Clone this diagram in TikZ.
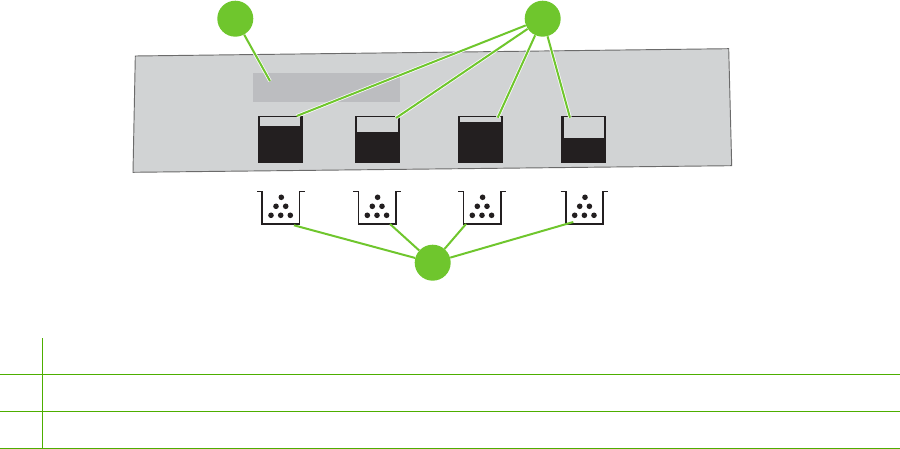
\documentclass[tikz,border=0pt]{standalone}
\definecolor{callout}{HTML}{6FC62D}
\definecolor{rule}{HTML}{4DAE00}
\definecolor{panel}{HTML}{D1D3D4}
\definecolor{screen}{HTML}{BCBDC0}
\definecolor{ink}{HTML}{231F20}
\tikzset{
  x=0.75pt,y=-0.75pt,
  badge/.style={circle,fill=callout,inner sep=0pt,minimum size=27pt},
  halo/.style={white,line width=2.6pt},
  leader/.style={callout,line width=1.5pt},
  tablerule/.style={rule,line width=1pt},
  binline/.style={ink,line width=1.2pt},
  panelface/.style={fill=panel,draw=black!58,line width=0.7pt},
  gaugewin/.style={fill=panel,draw=none},
}
\newcommand{\wastebin}[1]{%
  \draw[binline] (#1-5,191.7) -- (#1,191.7) -- (#1,224) -- (#1+37.5,224) -- (#1+37.5,191.7) -- (#1+42.5,191.7);
  \fill[ink] (#1+19.3,197.3) circle[radius=2.1pt];
  \fill[ink] (#1+14,206.3) circle[radius=2.1pt];
  \fill[ink] (#1+23.7,206.3) circle[radius=2.1pt];
  \fill[ink] (#1+9,215.3) circle[radius=2.1pt];
  \fill[ink] (#1+18.7,215.3) circle[radius=2.1pt];
  \fill[ink] (#1+28.3,215.3) circle[radius=2.1pt];
}
\begin{document}
\begin{tikzpicture}
\useasboundingbox (0,0) rectangle (900,449);
% panel
\draw[panelface] (135.3,56) -- (728.7,48.7) -- (731.7,165.7) -- (133,172.3) -- cycle;
\fill[screen] (253,73) rectangle (400,101.7);
% gauges
\fill[ink] (258,116) rectangle (303,163);
\fill[gaugewin] (260,117) rectangle (300,126);
\fill[ink] (355,116) rectangle (400,163);
\fill[gaugewin] (357,117) rectangle (398,132);
\fill[ink] (458,116) rectangle (503,163);
\fill[gaugewin] (460,117) rectangle (501,122);
\fill[ink] (561,116) rectangle (606,163);
\fill[gaugewin] (564,117) rectangle (604,137.7);
% bins
\wastebin{262}
\wastebin{358.3}
\wastebin{463.3}
\wastebin{565.7}
% callout badges
\node[badge] (one) at (235.3,18.7) {};
\node[badge] (two) at (542.7,18.7) {};
\node[badge] (three) at (432.7,262.7) {};
% free ends
\coordinate (screenend) at (270,81);
\coordinate (ga) at (296.7,116);
\coordinate (gb) at (396,118);
\coordinate (gc) at (497.7,117.7);
\coordinate (gd) at (570,117.7);
\coordinate (ba) at (294,225.3);
\coordinate (bb) at (390,224);
\coordinate (bc) at (466,224);
\coordinate (bd) at (573.3,222);
% connectors
\foreach \a/\b in {one/screenend,two/ga,two/gb,two/gc,two/gd}{
  \draw[halo] (\a) -- (\b);
}
\foreach \a/\b in {one/screenend,two/ga,two/gb,two/gc,two/gd,three/ba,three/bb,three/bc,three/bd}{
  \draw[leader] (\a) -- (\b);
}
% table rules
\coordinate (vtop) at (42.3,338);
\coordinate (vbot) at (42.3,448.3);
\coordinate (h1l) at (0,374.3);
\coordinate (h1r) at (900,374.3);
\coordinate (h2l) at (0,411.3);
\coordinate (h2r) at (900,411.3);
\coordinate (h3l) at (0,448.3);
\coordinate (h3r) at (900,448.3);
\draw[tablerule] (vtop) -- (vbot);
\draw[tablerule] (h1l) -- (h1r);
\draw[tablerule] (h2l) -- (h2r);
\draw[tablerule] (h3l) -- (h3r);
\end{tikzpicture}
\end{document}
